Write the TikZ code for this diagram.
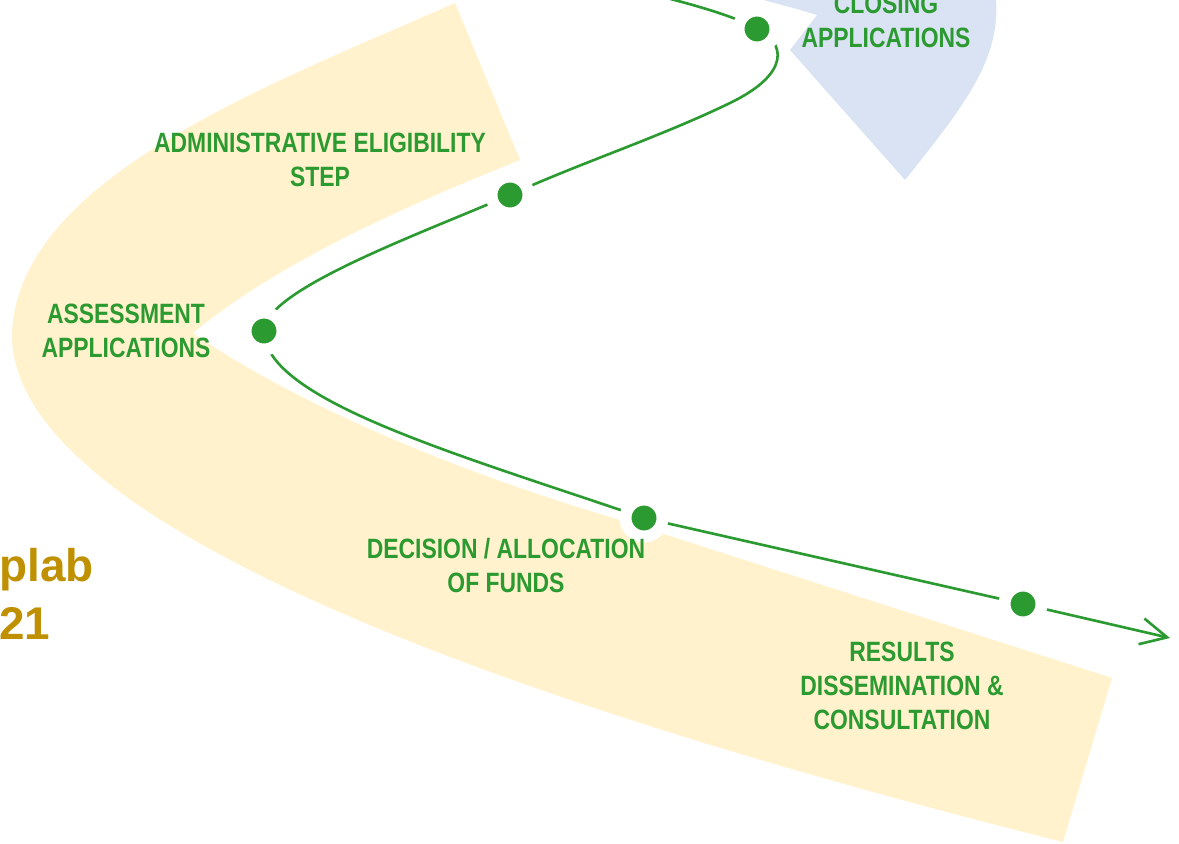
\documentclass[tikz,border=0pt]{standalone}
\usepackage{fontspec}
\usetikzlibrary{arrows.meta,backgrounds}
\newfontfamily\stagefont[FakeStretch=0.82]{Liberation Sans}
\newfontfamily\brandfont{Liberation Sans}
\definecolor{bandyellow}{HTML}{FFF2CC}
\definecolor{wedgeblue}{HTML}{DAE3F3}
\definecolor{roadgreen}{RGB}{43,154,48}
\definecolor{brandgold}{HTML}{BF9000}
\tikzset{
  road/.style={draw=roadgreen, line width=1.5pt},
  stepdot/.style={circle, fill=roadgreen, draw=white, line width=6.8pt, minimum size=0.74cm, inner sep=0pt},
  steplabel/.style={text=roadgreen, font={\stagefont\bfseries\fontsize{15.9}{19.3}\selectfont}, align=center, anchor=north, inner sep=0pt},
}
\begin{document}
\begin{tikzpicture}[x=0.02cm, y=-0.02cm]
\useasboundingbox (0,0) rectangle (1179,844);
% milestones
\node[stepdot] (closing) at (757,29) {};
\node[stepdot] (eligibility) at (510,195) {};
\node[stepdot] (assessment) at (264,331) {};
\node[stepdot] (decision) at (644,518) {};
\node[stepdot] (results) at (1023,604) {};
\coordinate (start) at (655,-5);
\coordinate (tipend) at (1170,638);
% labels
\node[steplabel] (closinglbl) at (886,-6) {CLOSING\\APPLICATIONS};
\node[steplabel] (eligibilitylbl) at (320,133) {ADMINISTRATIVE ELIGIBILITY\\STEP};
\node[steplabel] (assessmentlbl) at (126,304) {ASSESSMENT\\APPLICATIONS};
\node[steplabel] (decisionlbl) at (506,538) {DECISION / ALLOCATION\\OF FUNDS};
\node[steplabel] (resultslbl) at (902,642) {RESULTS\\DISSEMINATION \&\\CONSULTATION};
\node[text=brandgold, font={\brandfont\bfseries\fontsize{26.1}{32.9}\selectfont}, align=left, anchor=north west, inner sep=0pt] (brand) at (-1,548) {plab\\21};
\begin{scope}[on background layer]
% band and wedge
\fill[bandyellow] (455,3) -- (520,160) .. controls (420,200) and (280,260) .. (193,333)
  .. controls (260,380) and (400,455) .. (620,520) -- (1112,678) -- (1063,842)
  .. controls (300,650) and (12,480) .. (12,335) .. controls (16,178) and (272,84) .. (455,3) -- cycle;
\fill[wedgeblue] (745,-5) .. controls (770,2) and (795,8) .. (817,15) -- (790,50)
  -- (905,180) .. controls (965,105) and (1000,60) .. (996,0) -- (995,-10) -- cycle;
% road
\draw[road, -{Straight Barb[length=15pt,width=15pt]}] (start) .. controls (695,5) and (737,17) .. (closing.center)
  .. controls (785,42) and (792,73) .. (730,103)
  .. controls (660,137) and (580,163) .. (eligibility.center)
  .. controls (420,234) and (264,290) .. (assessment.center)
  .. controls (264,400) and (460,455) .. (decision.center)
  -- (results.center) -- (tipend);
\end{scope}
\end{tikzpicture}
\end{document}
